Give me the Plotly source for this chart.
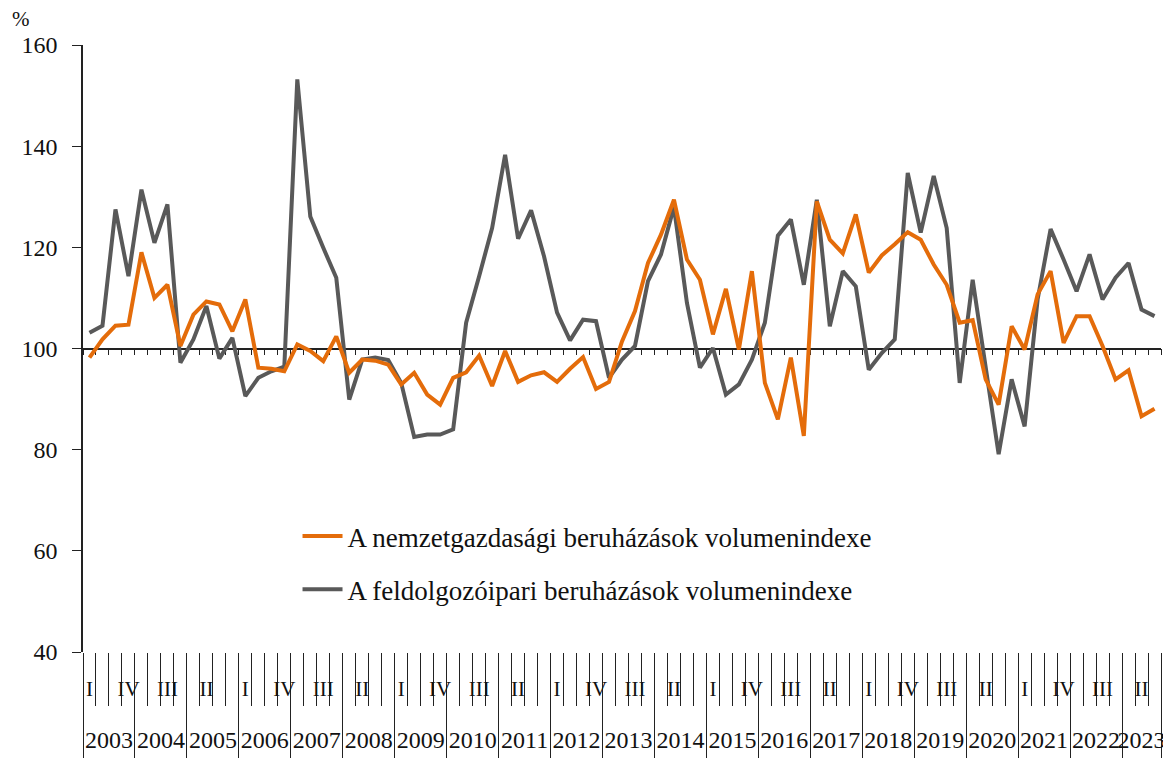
import plotly.graph_objects as go

years = [str(y) for y in range(2003, 2024)]
quarters = ["I", "II", "III", "IV"]

nemzetgazdasagi = [
    98.2, 101.8, 104.5, 104.7, 119.0, 110.0, 112.6, 100.5, 106.7, 109.3,
    108.7, 103.4, 109.7, 96.2, 96.0, 95.5, 100.8, 99.5, 97.5, 102.4,
    95.2, 97.8, 97.6, 96.8, 92.9, 95.2, 90.9, 88.9, 94.2, 95.3,
    98.6, 92.6, 99.5, 93.4, 94.7, 95.3, 93.4, 96.0, 98.3, 92.0,
    93.4, 101.4, 107.4, 116.9, 122.5, 129.4, 117.6, 113.6, 102.8, 111.8,
    99.8, 115.3, 93.2, 86.0, 98.2, 82.7, 129.1, 121.5, 118.8, 126.5,
    115.0, 118.4, 120.6, 123.0, 121.5, 116.6, 112.6, 105.1, 105.6, 93.9,
    88.9, 104.4, 99.8, 110.7, 115.3, 101.1, 106.4, 106.4, 100.5, 93.9,
    95.7, 86.6, 88.1,
]

feldolgozoipari = [
    103.1, 104.5, 127.5, 114.3, 131.4, 120.9, 128.5, 97.2, 101.8, 108.4,
    98.0, 102.1, 90.6, 94.2, 95.5, 96.4, 153.2, 126.1, 119.9, 114.0,
    89.9, 97.8, 98.2, 97.7, 93.2, 82.5, 83.0, 83.0, 84.0, 105.1,
    114.3, 123.8, 138.3, 121.7, 127.3, 118.2, 107.1, 101.6, 105.7, 105.4,
    94.2, 97.8, 100.5, 113.3, 118.6, 128.0, 109.0, 96.2, 100.1, 90.9,
    92.9, 97.8, 105.1, 122.3, 125.5, 112.6, 129.4, 104.4, 115.3, 112.3,
    95.8, 99.1, 101.8, 134.7, 122.9, 134.1, 123.8, 93.2, 113.6, 96.5,
    79.1, 93.9, 84.6, 109.7, 123.6, 117.6, 111.3, 118.6, 109.7, 114.0,
    116.9, 107.7, 106.4,
]

series_names = [
    "A nemzetgazdasági beruházások volumenindexe",
    "A feldolgozóipari beruházások volumenindexe",
]
y_ticks = [40, 60, 80, 100, 120, 140, 160]

n = len(nemzetgazdasagi)
# period labels (year, quarter) for each observation
periods = [(years[i // 4], quarters[i % 4]) for i in range(n)]
xs = list(range(n))

ORANGE = "#E46C0A"
GREY = "#595959"
FONT = "Liberation Serif"

fig = go.Figure()
fig.add_trace(go.Scatter(
    x=xs, y=feldolgozoipari, mode="lines", name=series_names[1],
    line=dict(color=GREY, width=4), legendgroup="b", legendrank=2,
    customdata=[f"{p[0]} {p[1]}" for p in periods],
))
fig.add_trace(go.Scatter(
    x=xs, y=nemzetgazdasagi, mode="lines", name=series_names[0],
    line=dict(color=ORANGE, width=4), legendgroup="a", legendrank=1,
    customdata=[f"{p[0]} {p[1]}" for p in periods],
))

rng = [-0.5, n - 0.5]
boundaries = [i - 0.5 for i in range(n + 1)]
year_starts = [i for i in range(n) if periods[i][1] == "I"]
year_bounds = [s - 0.5 for s in year_starts] + [n - 0.5]
year_centers = []
year_labels = []
for k, s in enumerate(year_starts):
    e = year_starts[k + 1] if k + 1 < len(year_starts) else n
    year_centers.append((s + e - 1) / 2)
    year_labels.append(periods[s][0])
q_vals = [i for i in range(n) if i % 3 == 0]
q_text = [periods[i][1] for i in q_vals]

base_x = dict(range=rng, showgrid=False, zeroline=False, fixedrange=True,
              automargin=False, tickangle=0)

# page body has an 8px margin, so the figure is sized 8px smaller
fig.update_layout(
    width=1163, height=750,
    margin=dict(l=75, r=10, t=37, b=106, autoexpand=False),
    paper_bgcolor="white", plot_bgcolor="white",
    font=dict(family=FONT, size=24, color="#111111"),
    showlegend=True,
    legend=dict(
        x=0.199, y=0.2306, xanchor="left", yanchor="top",
        bgcolor="rgba(0,0,0,0)", font=dict(family=FONT, size=27, color="#111111"),
        traceorder="grouped", tracegroupgap=15, itemwidth=40,
    ),
    xaxis=dict(**base_x, tickmode="array", tickvals=boundaries, ticks="outside",
               ticklen=53, tickwidth=1.3, tickcolor="#222222",
               showticklabels=False, showline=False),
    xaxis2=dict(**base_x, overlaying="x", anchor="free", position=0.5,
                tickmode="array", tickvals=boundaries, ticks="outside",
                ticklen=6, tickwidth=1.3, tickcolor="#222222",
                showticklabels=False, showline=True, linecolor="#222222",
                linewidth=1.5, layer="below traces"),
    xaxis3=dict(**base_x, overlaying="x", anchor="y", side="bottom",
                tickmode="array", tickvals=year_bounds, ticks="outside",
                ticklen=106, tickwidth=1.3, tickcolor="#222222",
                showticklabels=False, showline=False),
    xaxis4=dict(**base_x, overlaying="x", anchor="y", side="bottom",
                tickmode="array", tickvals=q_vals, ticktext=q_text, ticks="",
                ticklabelstandoff=22, tickfont=dict(family=FONT, size=21),
                showline=False),
    xaxis5=dict(**base_x, overlaying="x", anchor="y", side="bottom",
                tickmode="array", tickvals=year_centers, ticktext=year_labels,
                ticks="", ticklabelstandoff=71, tickfont=dict(family=FONT, size=24),
                showline=False),
    yaxis=dict(range=[40, 160], tickmode="array", tickvals=y_ticks,
               ticks="outside", ticklen=9, tickwidth=1.3, tickcolor="#222222",
               showline=True, linecolor="#222222", linewidth=1.5,
               showgrid=False, zeroline=False, ticklabelstandoff=10,
               tickfont=dict(family=FONT, size=24), automargin=False,
               fixedrange=True),
    annotations=[dict(text="%", xref="paper", yref="paper", x=-0.0575, y=1.0,
                      xanchor="center", yanchor="bottom", yshift=12,
                      showarrow=False,
                      font=dict(family=FONT, size=21, color="#111111"))],
)

# attach hidden helper traces so overlay axes render
for ax in ["x2", "x3", "x4", "x5"]:
    fig.add_trace(go.Scatter(x=[rng[0]], y=[None], xaxis=ax, yaxis="y",
                             showlegend=False, hoverinfo="skip", mode="lines"))

fig.write_html("out.html")
